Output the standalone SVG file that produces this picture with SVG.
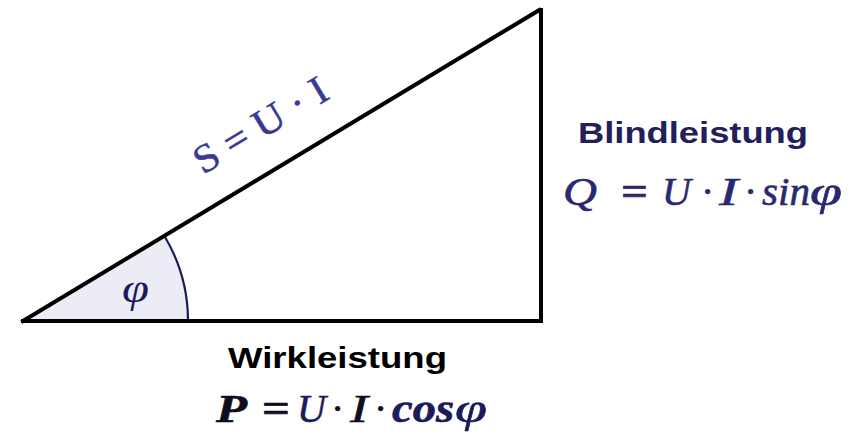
<svg xmlns="http://www.w3.org/2000/svg" width="865" height="440" viewBox="0 0 865 440">
<style>
.edge{fill:none;stroke:#000;stroke-width:4;stroke-linejoin:miter;stroke-linecap:square}
.arc{fill:none;stroke:#1c1a5a;stroke-width:2.2}
.sans{font-family:"Liberation Sans",Arial,sans-serif;font-weight:bold;font-size:30px}
.math{font-family:"Liberation Serif","Times New Roman",serif;font-style:italic;font-size:40px;stroke-width:0.6}
.q{fill:#2a2870;stroke:#2a2870}
.p{fill:#0e0e20;stroke:#0e0e20}
.pb{fill:#1c1a5a;stroke:#1c1a5a}
</style>
<rect width="865" height="440" fill="#fff"/>
<g id="angle">
<path d="M23,321 L165,237 A165,165 0 0 1 188,321 Z" fill="#ECECF7"/>
<path class="arc" d="M165,237 A165,165 0 0 1 188,321"/>
<text x="122" y="302" class="math" fill="#1c1a5a" font-size="40" textLength="27" lengthAdjust="spacingAndGlyphs">φ</text>
</g>
<g id="connectors">
<path class="edge" d="M23,321 L541,321 L541,8 L541,9 L23,321"/>
</g>
<g id="hypotenuse-label">
<text transform="translate(203,175) rotate(-31)" font-family="'Liberation Serif','Times New Roman',serif" font-size="40" fill="#3a3894" stroke="#3a3894" stroke-width="0.5" textLength="150" lengthAdjust="spacingAndGlyphs">S = U · I</text>
</g>
<g id="blindleistung">
<text x="578" y="143" class="sans" fill="#22205a" textLength="230" lengthAdjust="spacingAndGlyphs">Blindleistung</text>
<text y="205" class="math q"><tspan x="563" textLength="34" lengthAdjust="spacingAndGlyphs">Q</tspan><tspan x="621" font-style="normal" font-weight="bold" textLength="27" lengthAdjust="spacingAndGlyphs">=</tspan><tspan x="662">U</tspan><tspan x="702">·</tspan><tspan x="719" textLength="19" lengthAdjust="spacingAndGlyphs">I</tspan><tspan x="745">·</tspan><tspan x="762" textLength="48" lengthAdjust="spacingAndGlyphs">sin</tspan><tspan x="810" textLength="32" lengthAdjust="spacingAndGlyphs">φ</tspan></text>
</g>
<g id="wirkleistung">
<text x="228" y="368" class="sans" fill="#000" textLength="219" lengthAdjust="spacingAndGlyphs">Wirkleistung</text>
<text y="422" class="math p"><tspan x="216" font-weight="bold" textLength="31" lengthAdjust="spacingAndGlyphs">P</tspan><tspan x="262" font-style="normal" font-weight="bold" textLength="28" lengthAdjust="spacingAndGlyphs">=</tspan><tspan x="297" class="pb">U</tspan><tspan x="332">·</tspan><tspan x="350" textLength="18" lengthAdjust="spacingAndGlyphs">I</tspan><tspan x="375">·</tspan><tspan x="392" class="pb" font-weight="bold" textLength="62" lengthAdjust="spacingAndGlyphs">cos</tspan><tspan x="455" class="pb" textLength="32" lengthAdjust="spacingAndGlyphs">φ</tspan></text>
</g>
</svg>
